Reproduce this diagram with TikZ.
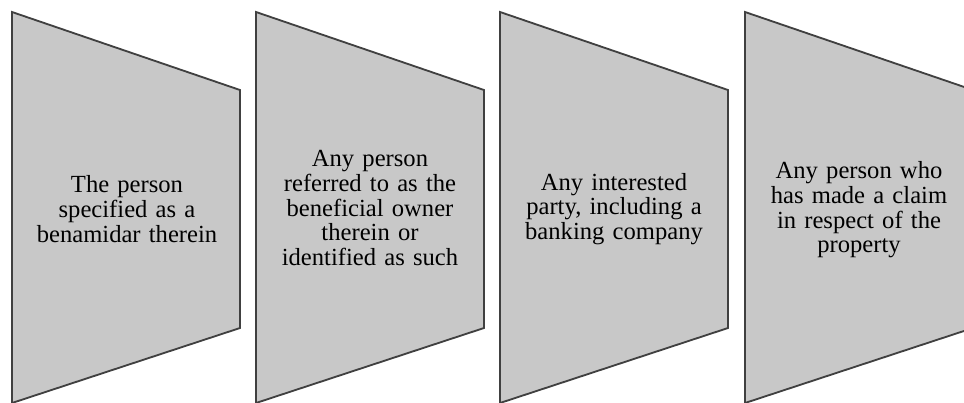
\documentclass[tikz,border=0pt]{standalone}
\usepackage{fontspec}
\setmainfont{Liberation Serif}
\usepackage{xcolor}
\usepackage{tikz}
\definecolor{panelgrey}{HTML}{C8C8C8}
\definecolor{panelline}{HTML}{404040}
\begin{document}
\begin{tikzpicture}[
  x=0.025cm, y=-0.025cm,
  panel/.style={draw=panelline, fill=panelgrey, line width=1.3pt, line join=miter},
  txt/.style={align=center, text width=5.6cm, inner sep=0pt,
              font=\fontsize{17.5}{17.5}\selectfont}
]
\clip (0,0) rectangle (964,402);
% ----- four funnel panels, left to right -----
\foreach \x in {12, 256, 500, 745}{
  \draw[panel] (\x,12) -- ++(228,78) -- ++(0,238) -- ++(-228,75) -- cycle;
}
% ----- panel texts -----
\node[txt] (p1) at (127,209) {The person\\specified as a\\benamidar therein};
\node[txt] (p2) at (370,208) {Any person\\referred to as the\\beneficial owner\\therein or\\identified as such};
\node[txt] (p3) at (614,209) {Any interested\\party, including a\\banking company};
\node[txt] (p4) at (859,210) {Any person who\\has made a claim\\in respect of the\\property};
\end{tikzpicture}
\end{document}
